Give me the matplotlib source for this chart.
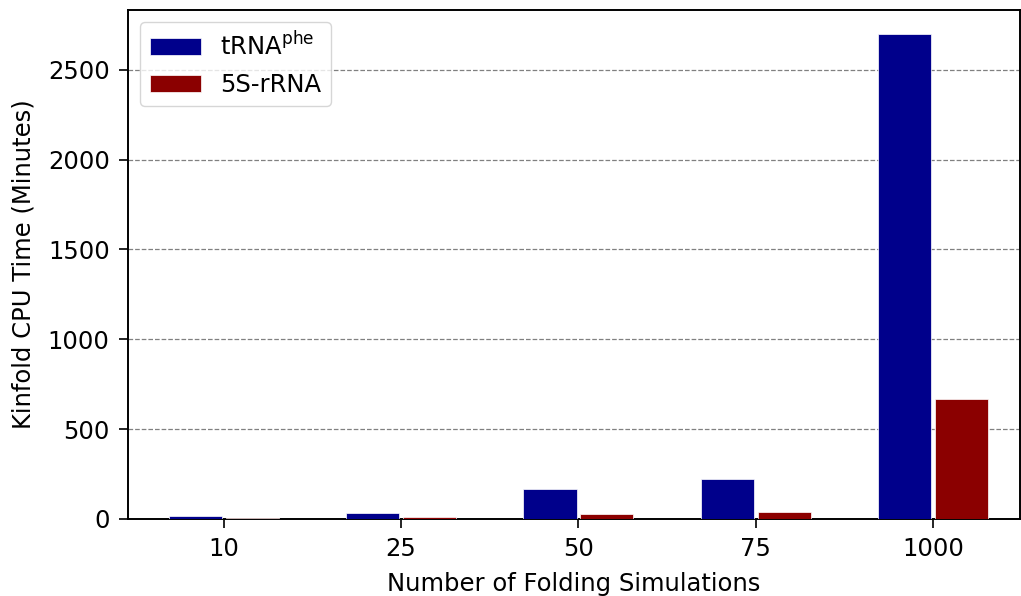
import matplotlib
matplotlib.use('Agg')
import matplotlib.pyplot as plt
import numpy as np

sims = ['10', '25', '50', '75', '1000']
trna = [16, 36, 168, 221, 2697]
rrna = [3, 12, 29, 40, 668]

fig = plt.figure(figsize=(10.21, 5.96), dpi=100)
ax = fig.add_axes([128/1021, 77/596, 892/1021, 509/596])

x = np.arange(len(sims))
w = 0.3
ax.bar(x - w/2 - 0.01, trna, w, color='#00008b', edgecolor='white', linewidth=0.5, label='tRNA$^{\\mathrm{phe}}$', zorder=3)
ax.bar(x + w/2 + 0.01, rrna, w, color='#8b0000', edgecolor='white', linewidth=0.5, label='5S-rRNA', zorder=3)

ax.set_xticks(x)
ax.set_xticklabels(sims)
ax.set_xlim(-0.54, 4.49)
ax.tick_params(labelsize=17.5, length=6.2, width=1.2, pad=7)
for s in ax.spines.values():
    s.set_linewidth(1.4)
ax.yaxis.grid(True, linestyle='--', color='gray', linewidth=0.9)
ax.set_axisbelow(True)
ax.set_xlabel('Number of Folding Simulations', fontsize=17.5, labelpad=8)
ax.set_ylabel('Kinfold CPU Time (Minutes)', fontsize=17.5, labelpad=9)
ax.legend(loc='upper left', fontsize=17.5, handlelength=2.1)

fig.savefig('out.png', dpi=100)
